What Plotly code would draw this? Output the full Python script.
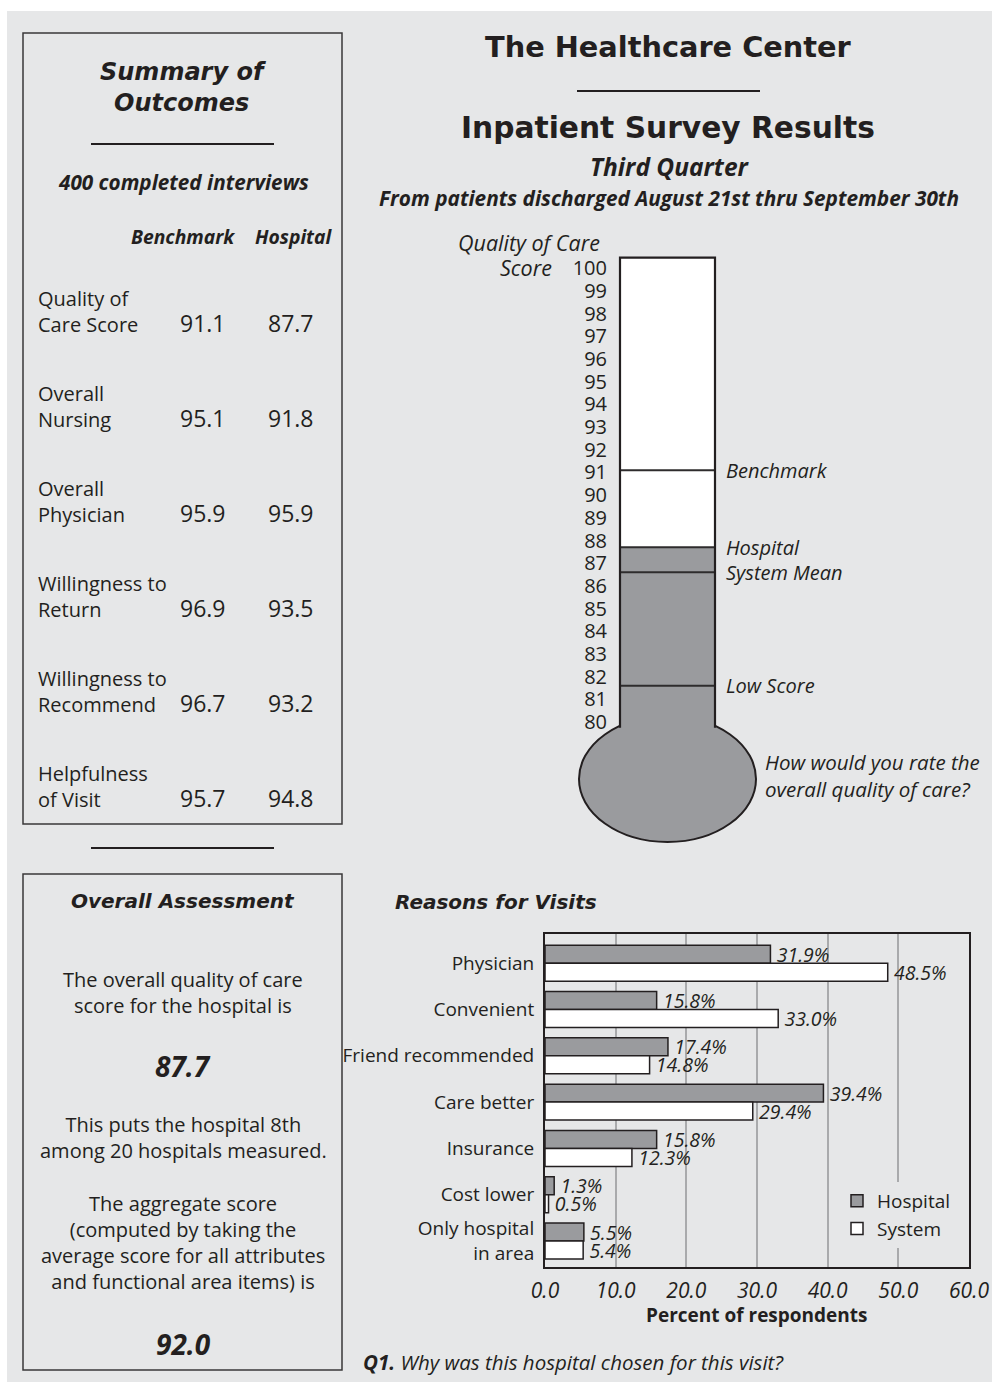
import plotly.graph_objects as go

W, H = 992, 1382
BG = "#e6e7e8"
INK = "#231f20"
GREY = "#9a9b9e"
GRID = "#a9aaac"
BODY = "Open Sans"
HEAD = "DejaVu Sans"

# ---------------- data ----------------
summary_rows = ["Quality of<br>Care Score", "Overall<br>Nursing", "Overall<br>Physician",
                "Willingness to<br>Return", "Willingness to<br>Recommend", "Helpfulness<br>of Visit"]
summary_benchmark = [91.1, 95.1, 95.9, 96.9, 96.7, 95.7]
summary_hospital = [87.7, 91.8, 95.9, 93.5, 93.2, 94.8]

thermo_labels = ["Benchmark", "Hospital", "System Mean", "Low Score"]
thermo_values = [91.1, 87.7, 86.6, 81.6]
thermo_ticks = list(range(80, 101))

reason_categories = ["Physician", "Convenient", "Friend recommended", "Care better",
                     "Insurance", "Cost lower", "Only hospital<br>in area"]
reason_hospital = [31.9, 15.8, 17.4, 39.4, 15.8, 1.3, 5.5]
reason_system = [48.5, 33.0, 14.8, 29.4, 12.3, 0.5, 5.4]

overall_score = 87.7
aggregate_score = 92.0
rank_text = "This puts the hospital 8th<br>among 20 hospitals measured."


def px(x):
    return x / W


def py(y):
    return 1 - y / H


def font(size, family=BODY, bold=False, italic=False, weight=None, color=INK):
    d = dict(family=family, size=size, color=color)
    if weight is not None:
        d["weight"] = weight
    elif bold:
        d["weight"] = "bold"
    if italic:
        d["style"] = "italic"
    return d


def ann(text, x, y, size, xanchor="center", **kw):
    return dict(xref="paper", yref="paper", x=px(x), y=py(y), text=text, showarrow=False,
                xanchor=xanchor, yanchor="middle", align=xanchor if xanchor != "center" else "center",
                font=font(size, **kw))


fig = go.Figure()

# ---------------- thermometer (x / y) ----------------
PPU = 22.685          # pixels per score point
th_top_px, th_bot_px = 250, 850
th_range = [80 - (th_bot_px - 722) / PPU, 80 + (722 - th_top_px) / PPU]
tube_top = 80 + (722 - 257.6) / PPU
hospital_level = thermo_values[thermo_labels.index("Hospital")]
fill_base = 78.5

fig.add_trace(go.Bar(x=[667.5], y=[hospital_level - fill_base], base=[fill_base], width=[93],
                     marker=dict(color=GREY, line=dict(width=0)), xaxis="x", yaxis="y",
                     showlegend=False, hoverinfo="skip"))
lx, ly = [], []
for v in thermo_values:
    lx += [620, 715, None]
    ly += [v, v, None]
fig.add_trace(go.Scatter(x=lx, y=ly, mode="lines", line=dict(color="#2e2c2d", width=2),
                         xaxis="x", yaxis="y", showlegend=False, hoverinfo="skip"))

shapes = []
shapes.append(dict(type="rect", xref="paper", yref="paper", x0=px(7), x1=1, y0=0, y1=py(11),
                   fillcolor=BG, line=dict(width=0), layer="below"))
shapes.append(dict(type="rect", xref="x", yref="y", x0=620, x1=715, y0=79.5, y1=tube_top,
                   fillcolor="white", line=dict(width=0), layer="below"))
shapes.append(dict(type="circle", xref="x", yref="y", x0=579, x1=756,
                   y0=80 - (842 - 722) / PPU, y1=80 + (722 - 716) / PPU,
                   fillcolor=GREY, line=dict(color=INK, width=2), layer="below"))
shapes.append(dict(type="path", xref="x", yref="y",
                   path=f"M620,79.75 L620,{tube_top} L715,{tube_top} L715,79.75",
                   line=dict(color=INK, width=2.2), layer="above"))
shapes.append(dict(type="rect", xref="paper", yref="paper", x0=px(23), x1=px(342), y0=py(824), y1=py(33),
                   line=dict(color="#3a3839", width=1.5), layer="above"))
shapes.append(dict(type="rect", xref="paper", yref="paper", x0=px(23), x1=px(342), y0=py(1370), y1=py(874),
                   line=dict(color="#3a3839", width=1.5), layer="above"))
for (x0, x1, y) in [(91, 274, 144), (91, 274, 848), (577, 760, 91)]:
    shapes.append(dict(type="line", xref="paper", yref="paper", x0=px(x0), x1=px(x1), y0=py(y), y1=py(y),
                       line=dict(color=INK, width=2), layer="above"))

# ---------------- bar chart (x2 / y2) ----------------
for name, vals, col in [("Hospital", reason_hospital, GREY), ("System", reason_system, "white")]:
    fig.add_trace(go.Bar(name=name, y=reason_categories, x=vals, orientation="h",
                         marker=dict(color=col, line=dict(color=INK, width=1.5)),
                         texttemplate="\u2009%{x:.1f}%", textposition="outside",
                         textfont=font(19.5, italic=True), constraintext="none", cliponaxis=False,
                         xaxis="x2", yaxis="y2", hoverinfo="skip"))

annotations = []
annotations.append(ann("The Healthcare Center", 668, 47, 28.8, family=HEAD, bold=True))
annotations.append(ann("Inpatient Survey Results", 668, 127, 29.7, family=HEAD, bold=True))
annotations.append(ann("Third Quarter", 670, 166, 24.5, bold=True, italic=True))
annotations.append(ann("From patients discharged August 21st thru September 30th", 669, 198, 20.8,
                       bold=True, italic=True))
annotations.append(ann("Summary of<br>Outcomes", 183, 87.5, 24, family=HEAD, bold=True, italic=True))
annotations.append(ann("400 completed interviews", 183, 182, 20.7, bold=True, italic=True))
annotations.append(ann("Benchmark", 183, 236, 19.3, bold=True, italic=True))
annotations.append(ann("Hospital", 293, 236, 19.3, bold=True, italic=True))
for i, (lab, b, h) in enumerate(zip(summary_rows, summary_benchmark, summary_hospital)):
    yc = 311 + 95 * i
    annotations.append(ann(lab, 36, yc, 20, xanchor="left"))
    annotations.append(ann(f"{b:.1f}", 203, yc + 12, 23))
    annotations.append(ann(f"{h:.1f}", 291, yc + 12, 23))
annotations.append(ann("Overall Assessment", 183, 901, 20, family=HEAD, bold=True, italic=True))
annotations.append(ann("The overall quality of care<br>score for the hospital is", 183, 992, 20))
annotations.append(ann(f"{overall_score:.1f}", 183, 1066, 28, bold=True, italic=True))
annotations.append(ann(rank_text, 183, 1137.5, 20))
annotations.append(ann("The aggregate score<br>(computed by taking the<br>average score for all attributes"
                       "<br>and functional area items) is", 183, 1242.5, 20))
annotations.append(ann(f"{aggregate_score:.1f}", 183, 1344, 28, bold=True, italic=True))
annotations.append(ann("Quality of Care", 529, 242, 21.5, italic=True))
annotations.append(ann("Score", 554, 268, 21.5, xanchor="right", italic=True))
annotations.append(ann("How would you rate the<br>overall quality of care?", 763, 775, 20.5,
                       xanchor="left", italic=True))
for lab, v in zip(thermo_labels, thermo_values):
    annotations.append(dict(xref="x", yref="y", x=724, y=v, text=lab, showarrow=False,
                            xanchor="left", yanchor="middle", font=font(20, italic=True)))
annotations.append(ann("Reasons for Visits", 393, 902, 20, xanchor="left", family=HEAD, bold=True, italic=True))
annotations.append(ann("Percent of respondents", 757, 1315, 19, bold=True))
annotations.append(ann("<b>Q1.</b> Why was this hospital chosen for this visit?", 361, 1362, 20.5,
                       xanchor="left", italic=True))

fig.update_layout(
    width=W, height=H, autosize=False, margin=dict(l=0, r=0, t=0, b=0, pad=0, autoexpand=False),
    paper_bgcolor="white", plot_bgcolor=BG,
    barmode="group", bargap=0.223, bargroupgap=0,
    shapes=shapes, annotations=annotations,
    font=dict(family=BODY, color=INK),
    xaxis=dict(domain=[px(575), px(760)], range=[575, 760], visible=False, anchor="y",
               fixedrange=True, automargin=False),
    yaxis=dict(domain=[py(th_bot_px), py(th_top_px)], range=th_range, anchor="free", position=px(620),
               tickvals=thermo_ticks, ticks="outside", ticklen=9, tickcolor="rgba(0,0,0,0)",
               showgrid=False, zeroline=False, showline=False, tickfont=font(20), fixedrange=True,
               automargin=False),
    xaxis2=dict(domain=[px(545), px(969)], range=[0, 60], anchor="y2", dtick=10, tickformat=".1f",
                showgrid=True, gridcolor=GRID, gridwidth=1.5, zeroline=False,
                showline=True, mirror=True, linecolor=INK, linewidth=2, automargin=False,
                ticks="outside", ticklen=4, tickcolor="rgba(0,0,0,0)", tickfont=font(21, italic=True)),
    yaxis2=dict(domain=[py(1267), py(934)], anchor="x2", type="category",
                categoryorder="array", categoryarray=reason_categories, range=[6.56, -0.63],
                showgrid=False, zeroline=False, showline=True, mirror=True, linecolor=INK, linewidth=2,
                ticks="outside", ticklen=5, tickcolor="rgba(0,0,0,0)", tickfont=font(19),
                automargin=False),
    legend=dict(x=px(837), y=py(1182), xanchor="left", yanchor="top", bgcolor=BG,
                font=font(19), tracegroupgap=0, itemwidth=30),
    showlegend=True,
)

fig.write_html(
    "out.html",
    config={"displayModeBar": False},
    post_script="document.documentElement.style.margin='0';document.body.style.margin='0';"
                "document.documentElement.style.overflow='hidden';document.body.style.overflow='hidden';",
)
